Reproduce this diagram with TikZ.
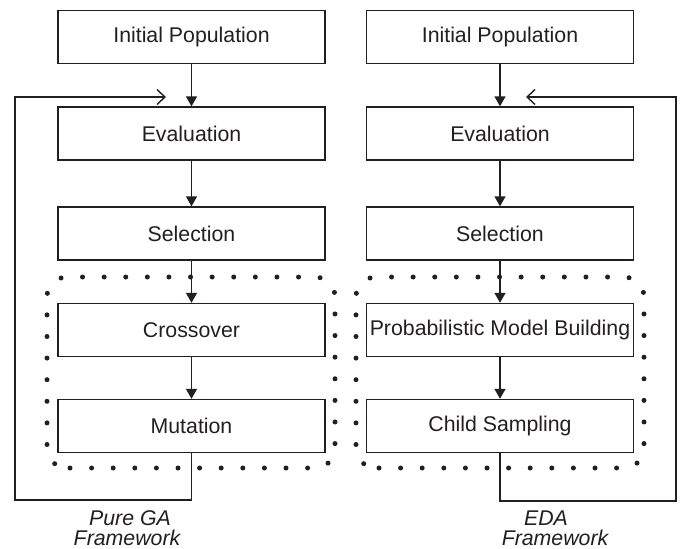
\documentclass[tikz,border=0pt]{standalone}
\usepackage{fontspec}
\setmainfont{Liberation Sans}
\usetikzlibrary{arrows.meta}
\definecolor{ink}{RGB}{35,31,32}
\begin{document}
\begin{tikzpicture}[x=1pt,y=-1pt,
  box/.style={draw=ink, line width=1.4pt, minimum width=267pt, minimum height=53pt,
    inner sep=0pt, font=\fontsize{21.3}{25}\selectfont, text=ink},
  conn/.style={draw=ink, line width=1.4pt},
  arr/.style={conn, -{Triangle[length=10pt,width=11pt]}},
  fb/.style={conn, -{Straight Barb[length=8pt,width=15pt,line width=1.4pt]}},
  dotbox/.style={draw=ink, line width=5pt, line cap=round, dash pattern=on 0pt off 21.6pt, rounded corners=20pt},
  lab/.style={font=\fontsize{21.3}{25}\selectfont\itshape, text=ink, inner sep=0pt, anchor=base}]
\useasboundingbox (0,0) rectangle (683,549);
\fill[white] (0,0) rectangle (683,549);
% dotted groups
\draw[dotbox] (70,468) -- (335,468) -- (335,277) -- (47,277) -- (47,468) -- (72,468);
\draw[dotbox] (379,468) -- (644,468) -- (644,277) -- (356,277) -- (356,468) -- (381,468);
% left column
\node[box] (ipL) at (191.5,37) {Initial Population};
\node[box] (evL) at (191.5,133.5) {Evaluation};
\node[box] (seL) at (191.5,233.5) {Selection};
\node[box] (crL) at (191.5,330) {Crossover};
\node[box] (muL) at (191.5,426) {Mutation};
% right column
\node[box] (ipR) at (500,37) {Initial Population};
\node[box] (evR) at (500,133.5) {Evaluation};
\node[box] (seR) at (500,233.5) {Selection};
\node[box] (pmR) at (500,330) {Probabilistic Model Building};
\node[box] (csR) at (500,426) {Child Sampling};
% arrows
\draw[arr] (ipL) -- (evL);
\draw[arr] (evL) -- (seL);
\draw[arr] (seL) -- (crL);
\draw[arr] (crL) -- (muL);
\draw[arr] (ipR) -- (evR);
\draw[arr] (evR) -- (seR);
\draw[arr] (seR) -- (pmR);
\draw[arr] (pmR) -- (csR);
% feedback loops
\coordinate (bL) at (191.5,500);
\coordinate (tL) at (15,97);
\coordinate (fL) at (166,97);
\draw[fb] (muL) -- (bL) -| (tL) -- (fL);
\coordinate (bR) at (500,501);
\coordinate (tR) at (676,97);
\coordinate (fR) at (526,97);
\draw[fb] (csR) -- (bR) -| (tR) -- (fR);
% labels
\node[lab] (g1) at (130,525) {Pure GA};
\node[lab] (g2) at (127,545) {Framework};
\node[lab] (e1) at (546,525) {EDA};
\node[lab] (e2) at (555,545) {Framework};
\end{tikzpicture}
\end{document}
